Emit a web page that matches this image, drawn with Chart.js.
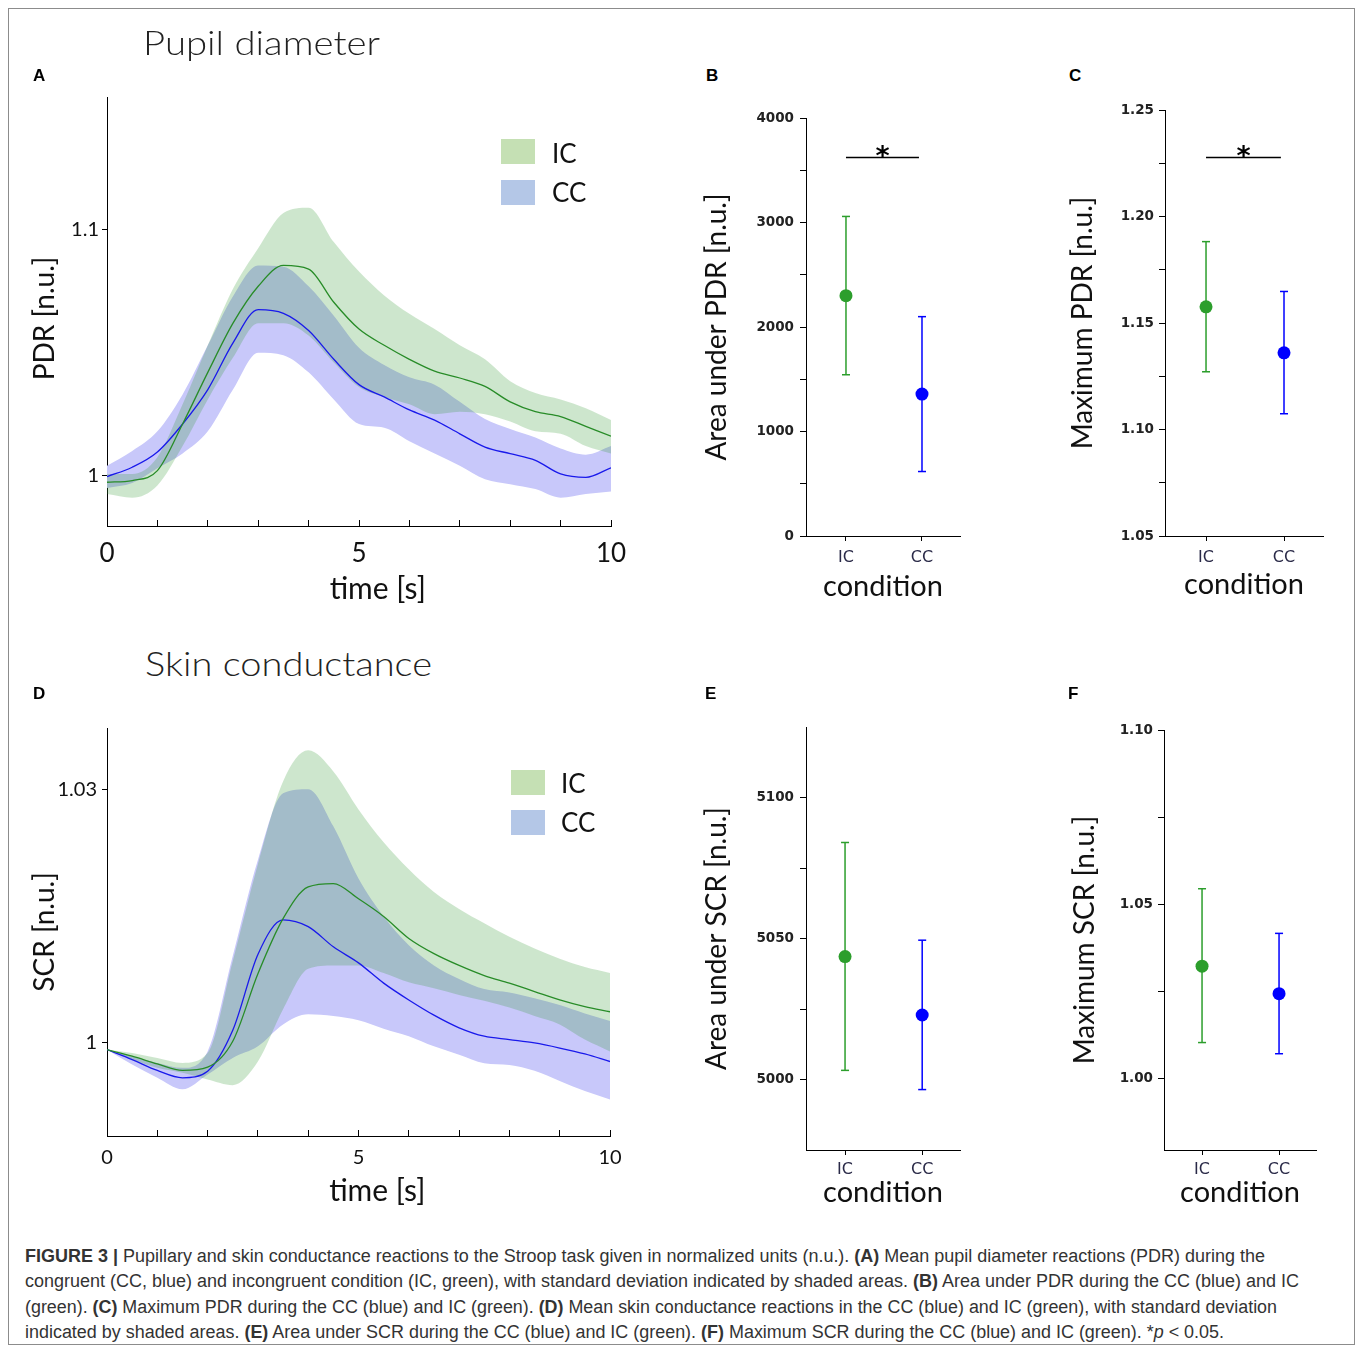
<!DOCTYPE html>
<html>
<head>
<meta charset="utf-8">
<script src="https://cdn.jsdelivr.net/npm/chart.js@4.4.0/dist/chart.umd.min.js"></script>
<style>
body { margin: 0; background: #fff; }
#fig { position: relative; width: 1357px; height: 1349px; overflow: hidden; background: #fff; }
#frame { position: absolute; left: 8px; top: 8px; width: 1347px; height: 1337px; border: 1px solid #8c8c8c; box-sizing: border-box; }
canvas { position: absolute; }
.txt { position: absolute; white-space: nowrap; transform-origin: 0 50%; color: #111; }
.lato { font-family: Lato, "Open Sans", sans-serif; }
.letter { font-family: "Liberation Sans", Arial, sans-serif; font-weight: bold; font-size: 17px; line-height: 17px; color: #000; }
.cap { font-family: "Liberation Sans Narrow", "Liberation Sans", Arial, sans-serif; font-size: 18px; line-height: 18px; color: #333; }
.swatch { position: absolute; width: 34px; height: 25px; }
</style>
</head>
<body>
<div id="fig">
  <div id="frame"></div>
  <canvas id="chartA" width="640" height="560" style="left:20px;top:60px"></canvas>
  <canvas id="chartB" width="285" height="525" style="left:690px;top:90px"></canvas>
  <canvas id="chartC" width="285" height="530" style="left:1055px;top:85px"></canvas>
  <canvas id="chartD" width="640" height="525" style="left:20px;top:690px"></canvas>
  <canvas id="chartE" width="285" height="520" style="left:690px;top:700px"></canvas>
  <canvas id="chartF" width="285" height="515" style="left:1055px;top:705px"></canvas>

  <div class="txt lato" data-w="237" style="left:143px;top:26px;font-size:33px;line-height:33px;font-weight:300;color:#222">Pupil diameter</div>
  <div class="txt lato" data-w="287" style="left:145px;top:647px;font-size:33px;line-height:33px;font-weight:300;color:#222">Skin conductance</div>

  <div class="txt letter" style="left:33px;top:67px">A</div>
  <div class="txt letter" style="left:706px;top:67px">B</div>
  <div class="txt letter" style="left:1069px;top:67px">C</div>
  <div class="txt letter" style="left:33px;top:685px">D</div>
  <div class="txt letter" style="left:705px;top:685px">E</div>
  <div class="txt letter" style="left:1068px;top:685px">F</div>

  <div class="swatch" style="left:501px;top:139px;background:#c5e0b4"></div>
  <div class="swatch" style="left:501px;top:180px;background:#b4c7e7"></div>
  <div class="txt lato" style="left:552px;top:140px;font-size:26px;line-height:26px">IC</div>
  <div class="txt lato" style="left:552px;top:179px;font-size:26px;line-height:26px">CC</div>

  <div class="swatch" style="left:511px;top:770px;background:#c5e0b4"></div>
  <div class="swatch" style="left:511px;top:810px;background:#b4c7e7"></div>
  <div class="txt lato" style="left:561px;top:770px;font-size:26px;line-height:26px">IC</div>
  <div class="txt lato" style="left:561px;top:809px;font-size:26px;line-height:26px">CC</div>

  <div class="txt cap" data-w="1240" style="left:25px;top:1247px"><b>FIGURE 3 |</b> Pupillary and skin conductance reactions to the Stroop task given in normalized units (n.u.). <b>(A)</b> Mean pupil diameter reactions (PDR) during the</div>
  <div class="txt cap" data-w="1274" style="left:25px;top:1272px">congruent (CC, blue) and incongruent condition (IC, green), with standard deviation indicated by shaded areas. <b>(B)</b> Area under PDR during the CC (blue) and IC</div>
  <div class="txt cap" data-w="1252" style="left:25px;top:1298px">(green). <b>(C)</b> Maximum PDR during the CC (blue) and IC (green). <b>(D)</b> Mean skin conductance reactions in the CC (blue) and IC (green), with standard deviation</div>
  <div class="txt cap" data-w="1199" style="left:25px;top:1323px">indicated by shaded areas. <b>(E)</b> Area under SCR during the CC (blue) and IC (green). <b>(F)</b> Maximum SCR during the CC (blue) and IC (green). *<i>p</i> &lt; 0.05.</div>
</div>

<script>
// time axis (s)
const times = [0, 0.5, 1, 1.5, 2, 2.5, 3, 3.5, 4, 4.5, 5, 5.5, 6, 6.5, 7, 7.5, 8, 8.5, 9, 9.5, 10];

// pupil diameter reaction, mean and +/- SD
const pdrIC      = [0.9973, 0.998, 1.002, 1.021, 1.042, 1.062, 1.077, 1.0855, 1.084, 1.0705, 1.0596, 1.053, 1.0473, 1.0425, 1.0397, 1.0363, 1.030, 1.026, 1.024, 1.020, 1.016];
const pdrICUpper = [1.0007, 1.0007, 1.0075, 1.029, 1.053, 1.076, 1.0925, 1.1068, 1.109, 1.095, 1.083, 1.0733, 1.0658, 1.0596, 1.053, 1.0473, 1.0384, 1.0336, 1.031, 1.0274, 1.0226];
const pdrICLower = [0.9925, 0.991, 0.996, 1.012, 1.031, 1.048, 1.062, 1.062, 1.057, 1.046, 1.036, 1.032, 1.029, 1.025, 1.026, 1.025, 1.022, 1.018, 1.017, 1.012, 1.009];
const pdrCC      = [0.9996, 1.0034, 1.0096, 1.021, 1.035, 1.054, 1.0675, 1.066, 1.059, 1.0473, 1.037, 1.032, 1.0267, 1.0226, 1.017, 1.0116, 1.0089, 1.0062, 1.0007, 0.9993, 1.0032];
const pdrCCUpper = [1.004, 1.010, 1.018, 1.033, 1.053, 1.073, 1.0855, 1.085, 1.077, 1.065, 1.052, 1.045, 1.040, 1.037, 1.030, 1.023, 1.019, 1.0155, 1.011, 1.0085, 1.012];
const pdrCCLower = [0.995, 0.997, 1.003, 1.009, 1.018, 1.035, 1.050, 1.049, 1.042, 1.031, 1.021, 1.0195, 1.014, 1.009, 1.004, 0.9985, 0.9965, 0.9945, 0.991, 0.9925, 0.9935];

// skin conductance reaction, mean and +/- SD
const scrIC      = [0.99921, 0.99843, 0.99752, 0.99674, 0.99713, 1.0002, 1.0082, 1.01474, 1.0185, 1.0189, 1.0171, 1.015, 1.0124, 1.0106, 1.0092, 1.0080, 1.0071, 1.0061, 1.0051, 1.0043, 1.0037];
const scrICUpper = [0.99921, 0.99882, 0.99823, 0.99764, 0.9988, 1.0097, 1.0212, 1.0310, 1.0347, 1.0322, 1.0277, 1.0238, 1.0206, 1.0179, 1.0159, 1.0142, 1.0126, 1.0112, 1.0100, 1.0090, 1.0083];
const scrICLower = [0.99921, 0.99803, 0.99705, 0.99646, 0.99567, 0.9950, 0.9978, 1.0040, 1.0088, 1.0092, 1.0092, 1.0083, 1.0072, 1.0065, 1.0057, 1.0050, 1.0042, 1.0032, 1.0022, 1.0004, 0.9990];
const scrCC      = [0.99921, 0.99803, 0.99674, 0.99587, 0.99666, 1.0015, 1.0105, 1.0146, 1.0138, 1.0114, 1.0095, 1.0071, 1.0051, 1.0033, 1.0018, 1.0008, 1.0004, 1.0000, 0.9994, 0.9987, 0.9978];
const scrCCUpper = [0.99921, 0.99843, 0.99764, 0.99705, 0.9990, 1.0103, 1.0217, 1.0296, 1.0301, 1.0257, 1.0195, 1.0150, 1.0116, 1.0092, 1.0076, 1.0064, 1.0060, 1.0053, 1.0045, 1.0035, 1.0026];
const scrCCLower = [0.99921, 0.99744, 0.99587, 0.9945, 0.99627, 0.99823, 0.9996, 1.0022, 1.0034, 1.0032, 1.0027, 1.0017, 1.0008, 0.9996, 0.9986, 0.9976, 0.9974, 0.9967, 0.9955, 0.9943, 0.9933];

// summary measures per condition
const conditions = ['IC', 'CC'];
const areaPdrMean = [2300, 1358];
const areaPdrLow  = [1543, 617];
const areaPdrHigh = [3058, 2099];
const maxPdrMean  = [1.1576, 1.136];
const maxPdrLow   = [1.1271, 1.1074];
const maxPdrHigh  = [1.1882, 1.1648];
const areaScrMean = [5043.7, 5023.0];
const areaScrLow  = [5003.4, 4996.6];
const areaScrHigh = [5084.1, 5049.5];
const maxScrMean  = [1.0323, 1.0244];
const maxScrLow   = [1.0104, 1.0072];
const maxScrHigh  = [1.0545, 1.0417];
const areaPdrSig = 3627;
const maxPdrSig = 1.2279;

// ticks
const timeTicks = [0, 1, 2, 3, 4, 5, 6, 7, 8, 9, 10];
const timeTickLabels = ['0', '', '', '', '', '5', '', '', '', '', '10'];
const pdrTicks = [1, 1.1];
const pdrTickLabels = ['1', '1.1'];
const scrTicks = [1, 1.03];
const scrTickLabels = ['1', '1.03'];
const areaPdrTicks = [0, 500, 1000, 1500, 2000, 2500, 3000, 3500, 4000];
const areaPdrTickLabels = ['0', '', '1000', '', '2000', '', '3000', '', '4000'];
const maxPdrTicks = [1.05, 1.075, 1.1, 1.125, 1.15, 1.175, 1.2, 1.225, 1.25];
const maxPdrTickLabels = ['1.05', '', '1.10', '', '1.15', '', '1.20', '', '1.25'];
const areaScrTicks = [5000, 5025, 5050, 5075, 5100];
const areaScrTickLabels = ['5000', '', '5050', '', '5100'];
const maxScrTicks = [1.0, 1.025, 1.05, 1.075, 1.1];
const maxScrTickLabels = ['1.00', '', '1.05', '', '1.10'];

const GREEN_LINE = 'rgb(40,140,40)';
const BLUE_LINE = 'rgb(25,25,235)';
const GREEN_BAND = 'rgba(47,151,47,0.24)';
const BLUE_BAND = 'rgb(200,200,250)';
const condColors = ['rgb(44,158,44)', 'rgb(0,0,255)'];
const NONE = 'rgba(0,0,0,0)';

Chart.defaults.font.family = 'Lato, "Open Sans", sans-serif';

const sigPlugin = {
    id: 'sig',
    afterDatasetsDraw(chart, args, opts) {
        if (opts.level == null) return;
        const { ctx, scales: { x, y } } = chart;
        const py = Math.round(y.getPixelForValue(opts.level)) + 0.5;
        ctx.save();
        ctx.strokeStyle = '#000';
        ctx.lineWidth = 1.5;
        ctx.beginPath();
        ctx.moveTo(x.getPixelForValue(1), py);
        ctx.lineTo(x.getPixelForValue(1.96), py);
        ctx.stroke();
        ctx.fillStyle = '#000';
        ctx.font = 'bold 27px "DejaVu Sans"';
        ctx.textAlign = 'center';
        ctx.textBaseline = 'alphabetic';
        ctx.fillText('*', x.getPixelForValue(1.48), py + 7);
        ctx.restore();
    }
};

function pts(ys) {
    return ys.map((y, i) => ({ x: times[i], y: y }));
}

function axisLine() {
    return { display: true, color: '#000', width: 1 };
}

function timeChart(id, pos, s) {
    const canvas = document.getElementById(id);
    const box = { left: parseFloat(canvas.style.left), top: parseFloat(canvas.style.top), w: canvas.width, h: canvas.height };
    new Chart(canvas, {
        type: 'line',
        data: {
            datasets: [
                { data: pts(s.ic), borderColor: GREEN_LINE, borderWidth: 1.3, fill: false },
                { data: pts(s.cc), borderColor: BLUE_LINE, borderWidth: 1.3, fill: false },
                { data: pts(s.icHi), borderColor: NONE, borderWidth: 1, backgroundColor: GREEN_BAND, fill: '+1' },
                { data: pts(s.icLo), borderColor: NONE, borderWidth: 1, fill: false },
                { data: pts(s.ccHi), borderColor: NONE, borderWidth: 1, backgroundColor: BLUE_BAND, fill: '+1' },
                { data: pts(s.ccLo), borderColor: NONE, borderWidth: 1, fill: false }
            ]
        },
        options: {
            responsive: false,
            animation: false,
            devicePixelRatio: 1,
            layout: { padding: { left: 0, bottom: 0, top: pos.t - box.top, right: box.left + box.w - pos.r } },
            elements: { point: { radius: 0, hoverRadius: 0 }, line: { cubicInterpolationMode: 'monotone' } },
            plugins: { legend: { display: false }, tooltip: { enabled: false } },
            scales: {
                x: {
                    type: 'linear', min: 0, max: 10,
                    afterBuildTicks: sc => { sc.ticks = timeTicks.map(v => ({ value: v })); },
                    afterFit: sc => { sc.height = box.top + box.h - pos.b; },
                    ticks: { autoSkip: false, maxRotation: 0, color: '#111', padding: s.xPad,
                        font: { size: s.xFont }, callback: (v, i) => timeTickLabels[i] },
                    grid: { drawOnChartArea: false, drawTicks: true, tickLength: -6, color: '#000' },
                    border: axisLine(),
                    // leading em/en spaces move the title right, as in the figure
                    title: { display: true, text: '\u2003\u2002time [s]', color: '#111', font: { size: 30 },
                        padding: { top: 0, bottom: s.xTitlePad } }
                },
                y: {
                    type: 'linear', min: s.yMin, max: s.yMax,
                    afterBuildTicks: sc => { sc.ticks = s.yTicks.map(v => ({ value: v })); },
                    afterFit: sc => { sc.width = pos.l - box.left; },
                    ticks: { autoSkip: false, color: '#111', padding: s.yPad, font: { size: 20 },
                        callback: (v, i) => s.yTickLabels[i] },
                    grid: { drawOnChartArea: false, drawTicks: true, tickLength: 5, color: '#000' },
                    border: axisLine(),
                    title: { display: true, text: s.yTitle, color: '#111', font: { size: 28 },
                        padding: { top: 8, bottom: 0 } }
                }
            }
        }
    });
}

function errChart(id, pos, d) {
    const canvas = document.getElementById(id);
    const box = { left: parseFloat(canvas.style.left), top: parseFloat(canvas.style.top), w: canvas.width, h: canvas.height };
    const bars = conditions.map((c, i) => ({
        data: [{ x: i + 1, y: d.low[i] }, { x: i + 1, y: d.high[i] }],
        borderColor: condColors[i], borderWidth: 1.5, showLine: true,
        pointStyle: 'line', pointRadius: 4, pointHoverRadius: 4,
        pointBorderColor: condColors[i], pointBorderWidth: 1.5
    }));
    new Chart(canvas, {
        type: 'line',
        data: {
            datasets: [
                { data: d.mean.map((m, i) => ({ x: i + 1, y: m })), showLine: false,
                  pointRadius: 6.5, pointHoverRadius: 6.5, pointBorderWidth: 0,
                  pointBackgroundColor: condColors, borderColor: condColors }
            ].concat(bars)
        },
        plugins: [sigPlugin],
        options: {
            responsive: false,
            animation: false,
            devicePixelRatio: 1,
            layout: { padding: { left: 0, bottom: 0, top: pos.t - box.top, right: box.left + box.w - pos.r } },
            plugins: { legend: { display: false }, tooltip: { enabled: false }, sig: { level: d.sig } },
            scales: {
                x: {
                    type: 'linear', min: d.xMin, max: d.xMax,
                    afterBuildTicks: sc => { sc.ticks = conditions.map((c, i) => ({ value: i + 1 })); },
                    afterFit: sc => { sc.height = box.top + box.h - pos.b; },
                    ticks: { autoSkip: false, maxRotation: 0, color: '#2a2a48', padding: d.xPad,
                        font: { family: '"DejaVu Sans"', size: 16 }, callback: (v, i) => conditions[i] },
                    grid: { drawOnChartArea: false, drawTicks: true, tickLength: 5, color: '#000' },
                    border: axisLine(),
                    title: { display: true, text: 'condition', color: '#111', font: { size: 29 },
                        padding: { top: 0, bottom: d.xTitlePad } }
                },
                y: {
                    type: 'linear', min: d.yMin, max: d.yMax,
                    afterBuildTicks: sc => { sc.ticks = d.yTicks.map(v => ({ value: v })); },
                    afterFit: sc => { sc.width = pos.l - box.left; },
                    ticks: { autoSkip: false, color: '#222', padding: d.yPad,
                        font: { family: '"DejaVu Sans"', size: 13.5, weight: 'bold' }, callback: (v, i) => d.yTickLabels[i] },
                    grid: { drawOnChartArea: false, drawTicks: true, tickLength: 6, color: '#000' },
                    border: axisLine(),
                    title: { display: true, text: d.yTitle, color: '#111', font: { size: 28 },
                        padding: { top: d.yTitlePad, bottom: 0 } }
                }
            }
        }
    });
}

timeChart('chartA', { l: 107, t: 97, r: 611, b: 526 }, {
    ic: pdrIC, icHi: pdrICUpper, icLo: pdrICLower, cc: pdrCC, ccHi: pdrCCUpper, ccLo: pdrCCLower,
    yMin: 0.9795, yMax: 1.154, yTicks: pdrTicks, yTickLabels: pdrTickLabels, yTitle: 'PDR [n.u.]\u2002',
    xFont: 26, xPad: 18, xTitlePad: 13, yPad: 3
});

timeChart('chartD', { l: 107, t: 728, r: 610, b: 1136 }, {
    ic: scrIC, icHi: scrICUpper, icLo: scrICLower, cc: scrCC, ccHi: scrCCUpper, ccLo: scrCCLower,
    yMin: 0.98897, yMax: 1.03735, yTicks: scrTicks, yTickLabels: scrTickLabels, yTitle: 'SCR [n.u.]',
    xFont: 20, xPad: 16, xTitlePad: 6, yPad: 5
});

errChart('chartB', { l: 806, t: 118, r: 960, b: 536 }, {
    mean: areaPdrMean, low: areaPdrLow, high: areaPdrHigh, sig: areaPdrSig,
    xMin: 0.474, xMax: 2.5, yMin: 0, yMax: 4000, yTicks: areaPdrTicks, yTickLabels: areaPdrTickLabels,
    yTitle: 'Area under PDR [n.u.]', yTitlePad: 10, yPad: 6, xPad: 7, xTitlePad: 11
});

errChart('chartC', { l: 1165, t: 110, r: 1323, b: 536 }, {
    mean: maxPdrMean, low: maxPdrLow, high: maxPdrHigh, sig: maxPdrSig,
    xMin: 0.474, xMax: 2.5, yMin: 1.05, yMax: 1.25, yTicks: maxPdrTicks, yTickLabels: maxPdrTickLabels,
    yTitle: 'Maximum PDR [n.u.]', yTitlePad: 11, yPad: 5, xPad: 7, xTitlePad: 13
});

errChart('chartE', { l: 806, t: 727, r: 960, b: 1150 }, {
    mean: areaScrMean, low: areaScrLow, high: areaScrHigh, sig: null,
    xMin: 0.494, xMax: 2.49, yMin: 4975.2, yMax: 5125, yTicks: areaScrTicks, yTickLabels: areaScrTickLabels,
    yTitle: 'Area under SCR [n.u.]', yTitlePad: 10, yPad: 6, xPad: 5, xTitlePad: 10
});

errChart('chartF', { l: 1164, t: 730, r: 1316, b: 1150 }, {
    mean: maxScrMean, low: maxScrLow, high: maxScrHigh, sig: null,
    xMin: 0.506, xMax: 2.48, yMin: 0.9796, yMax: 1.10, yTicks: maxScrTicks, yTickLabels: maxScrTickLabels,
    yTitle: 'Maximum SCR [n.u.]', yTitlePad: 13, yPad: 5, xPad: 5, xTitlePad: 10
});

// squeeze title and caption lines to the widths in the figure
document.querySelectorAll('[data-w]').forEach(el => {
    const w = el.getBoundingClientRect().width;
    el.style.transform = 'scaleX(' + (el.dataset.w / w) + ')';
});
</script>
</body>
</html>
